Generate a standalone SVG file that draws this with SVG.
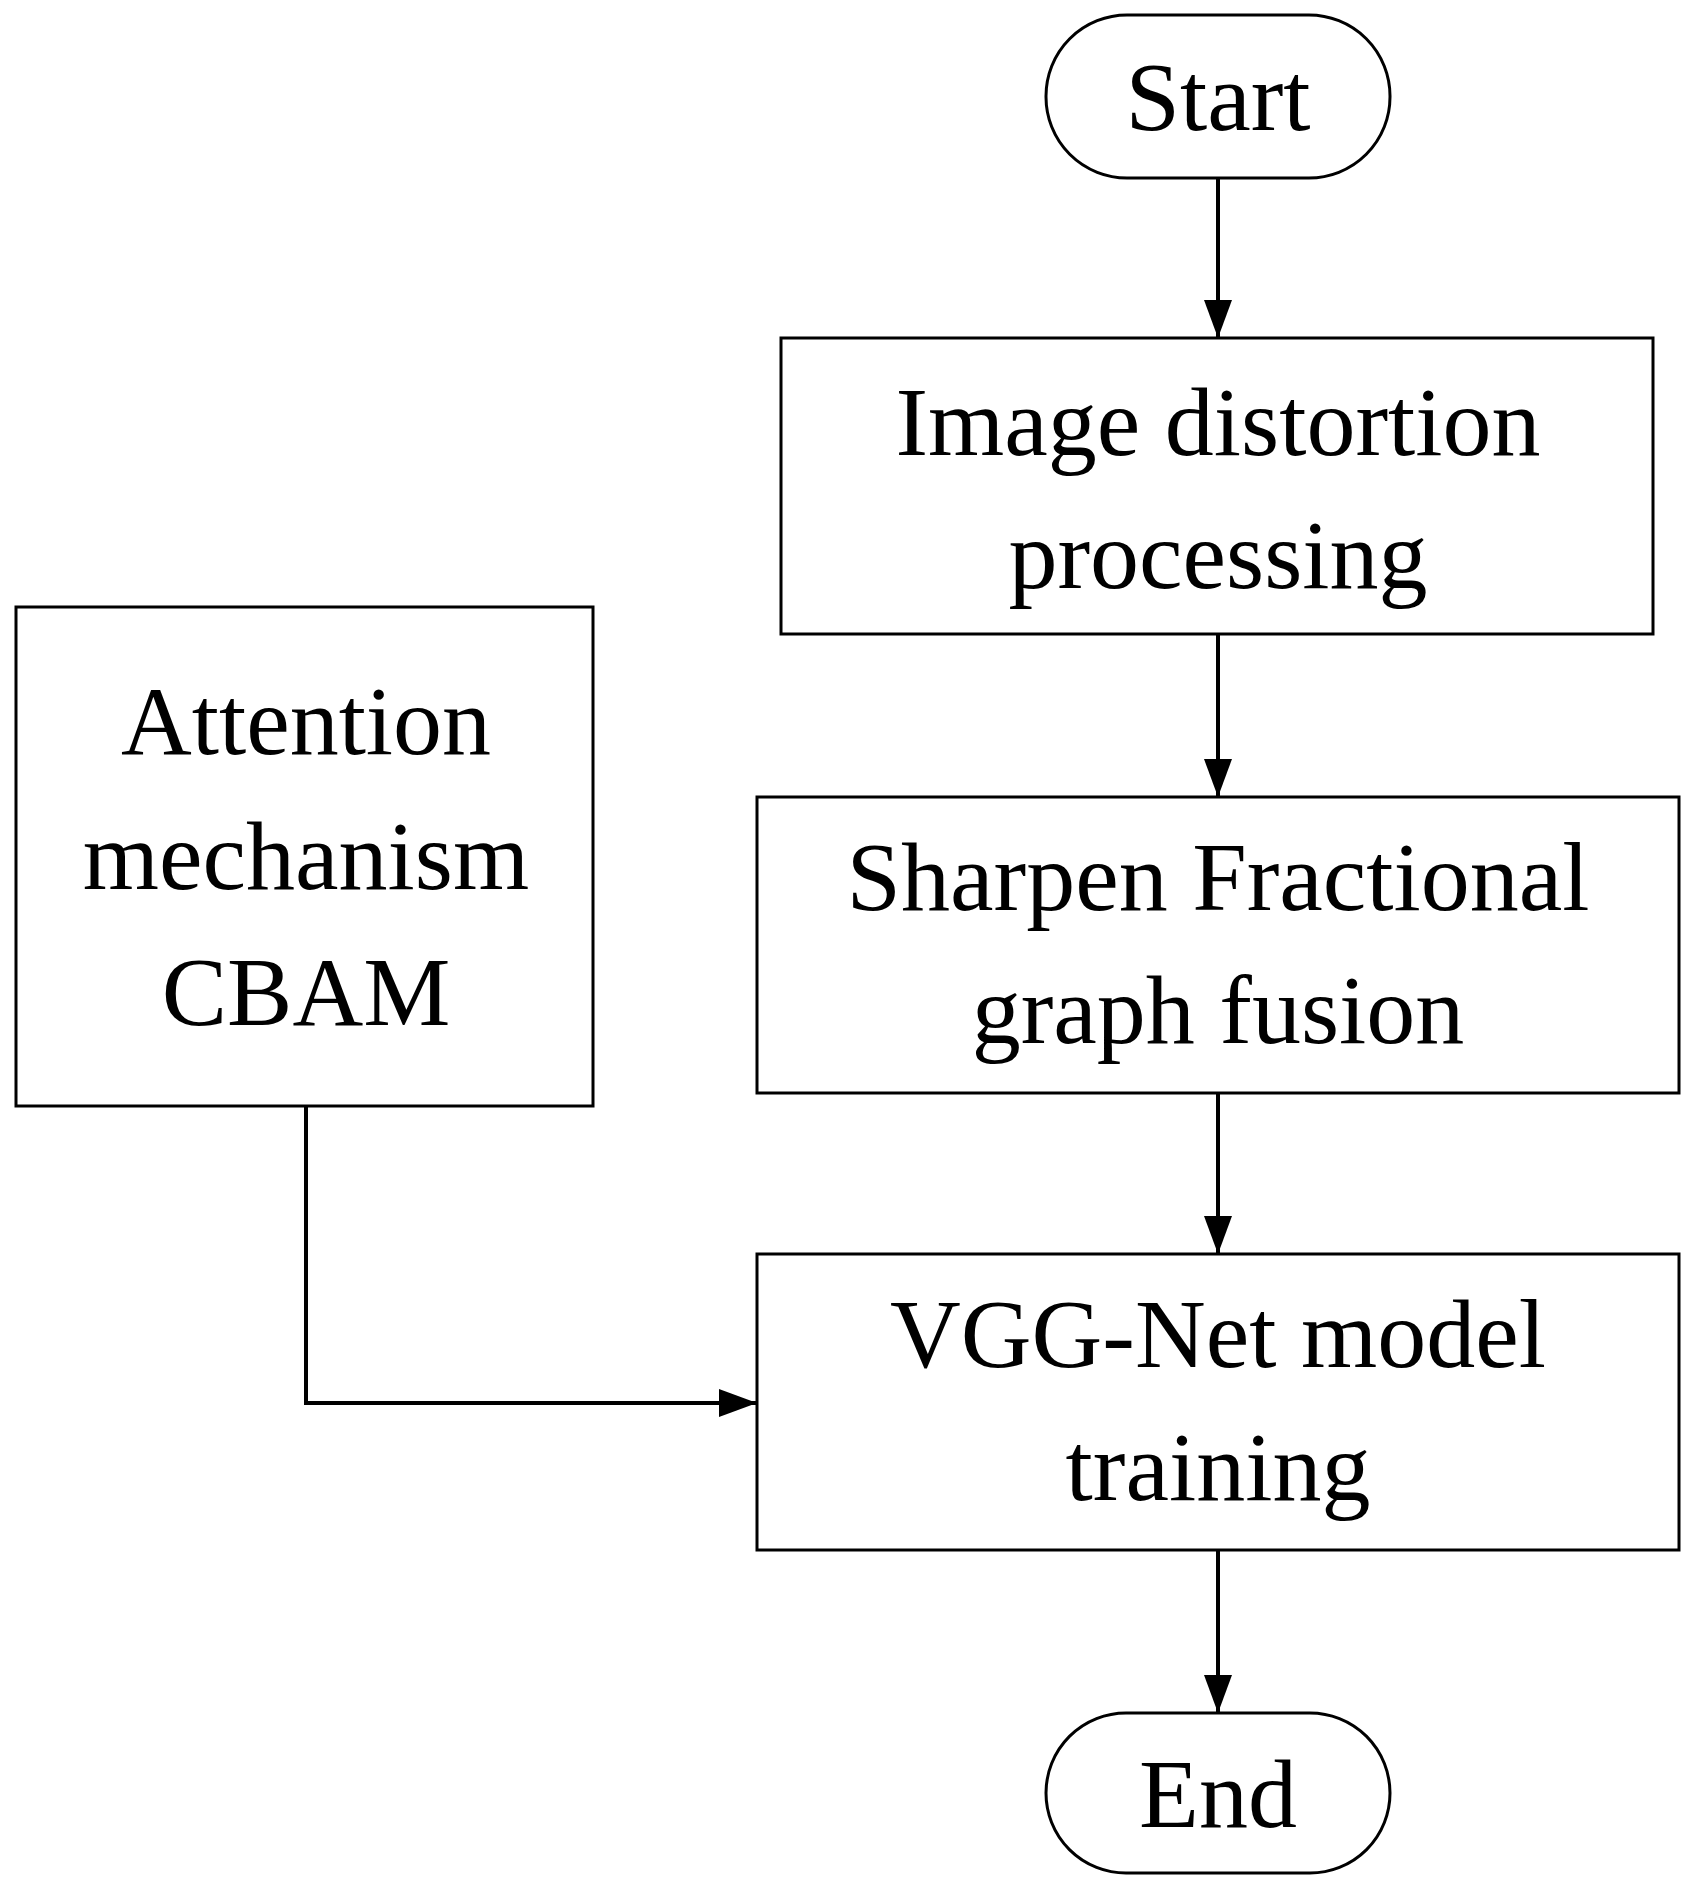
<svg xmlns="http://www.w3.org/2000/svg" width="1698" height="1904" viewBox="0 0 1698 1904">
<style>
.b{fill:#fff;stroke:#000;stroke-width:3}
.t{font-family:"Liberation Serif",serif;font-size:98px;text-anchor:middle;fill:#000}
.c{fill:none;stroke:#000;stroke-width:4}
</style>
<defs><marker id="a" markerWidth="10" markerHeight="10" refX="10" refY="5" orient="auto" markerUnits="userSpaceOnUse" viewBox="0 0 10 10"><path d="M0,0L10,5L0,10z"/></marker>
<marker id="m" markerWidth="38" markerHeight="38" refX="38" refY="19" orient="auto" markerUnits="userSpaceOnUse"><path d="M0,5L38,19L0,33z"/></marker></defs>
<rect width="1698" height="1904" fill="#fff"/>
<g id="start"><rect class="b" x="1046" y="15" width="344" height="163" rx="81"/><text class="t" x="1218" y="130">Start</text></g>
<g id="image"><rect class="b" x="781" y="338" width="872" height="296"/><text class="t" x="1218" y="455">Image distortion</text><text class="t" x="1218" y="588">processing</text></g>
<g id="sharpen"><rect class="b" x="757" y="797" width="922" height="296"/><text class="t" x="1218" y="910">Sharpen Fractional</text><text class="t" x="1218" y="1043">graph fusion</text></g>
<g id="vgg"><rect class="b" x="757" y="1254" width="922" height="296"/><text class="t" x="1218" y="1367">VGG-Net model</text><text class="t" x="1218" y="1500">training</text></g>
<g id="end"><rect class="b" x="1046" y="1713" width="344" height="160" rx="80"/><text class="t" x="1218" y="1827">End</text></g>
<g id="attention"><rect class="b" x="16" y="607" width="577" height="499"/><text class="t" x="306" y="754">Attention</text><text class="t" x="306" y="889">mechanism</text><text class="t" x="306" y="1025">CBAM</text></g>
<g id="connectors">
<path class="c" d="M1218,178V338" marker-end="url(#m)"/>
<path class="c" d="M1218,634V797" marker-end="url(#m)"/>
<path class="c" d="M1218,1093V1254" marker-end="url(#m)"/>
<path class="c" d="M1218,1550V1713" marker-end="url(#m)"/>
<path class="c" d="M306,1106V1403H757" marker-end="url(#m)"/>
</g>
</svg>
